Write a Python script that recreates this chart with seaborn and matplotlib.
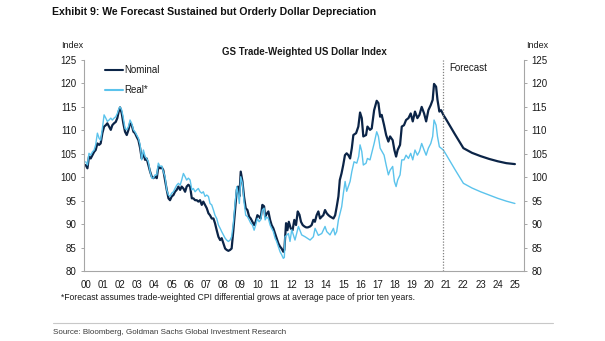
import numpy as np
import pandas as pd
import matplotlib
matplotlib.use("Agg")
import matplotlib.pyplot as plt
import seaborn as sns
from matplotlib import font_manager

# ---------------- data (years since 2000, index values) ----------------
nominal_t = [0.00, 0.10, 0.19, 0.29, 0.39, 0.49, 0.58, 0.68, 0.78, 0.87, 0.97, 1.07, 1.17, 1.26, 1.36,
             1.46, 1.55, 1.65, 1.75, 1.84, 1.94, 2.00, 2.10, 2.19, 2.29, 2.39, 2.49, 2.58, 2.68, 2.78,
             2.87, 2.97, 3.07, 3.17, 3.26, 3.36, 3.46, 3.55, 3.65, 3.75, 3.85, 3.94, 4.04, 4.14, 4.23,
             4.33, 4.43, 4.52, 4.62, 4.72, 4.82, 4.91, 5.01, 5.11, 5.20, 5.30, 5.40, 5.50, 5.59, 5.69,
             5.79, 5.88, 5.98, 6.08, 6.18, 6.27, 6.37, 6.47, 6.56, 6.66, 6.76, 6.85, 6.95, 7.05, 7.15,
             7.24, 7.34, 7.44, 7.53, 7.63, 7.73, 7.83, 7.92, 8.02, 8.12, 8.21, 8.31, 8.41, 8.50, 8.60,
             8.70, 8.80, 8.87, 8.95, 9.03, 9.13, 9.22, 9.32, 9.42, 9.52, 9.61, 9.71, 9.81, 9.90, 10.00,
             10.10, 10.19, 10.29, 10.39, 10.45, 10.54, 10.64, 10.74, 10.83, 10.93, 11.03, 11.12, 11.22,
             11.32, 11.41, 11.51, 11.57, 11.67, 11.75, 11.83, 11.94, 12.05, 12.15, 12.25, 12.35, 12.45,
             12.54, 12.64, 12.74, 12.84, 12.94, 13.07, 13.16, 13.26, 13.35, 13.45, 13.55, 13.65, 13.75,
             13.84, 13.94, 14.04, 14.14, 14.24, 14.43, 14.53, 14.62, 14.72, 14.80, 14.90, 15.00, 15.10,
             15.20, 15.30, 15.40, 15.50, 15.59, 15.75, 15.88, 15.98, 16.08, 16.17, 16.33, 16.41, 16.56,
             16.66, 16.80, 16.95, 17.05, 17.15, 17.24, 17.38, 17.50, 17.63, 17.73, 17.88, 17.98, 18.08,
             18.17, 18.31, 18.41, 18.54, 18.66, 18.80, 18.93, 19.05, 19.18, 19.32, 19.44, 19.57, 19.71,
             19.83, 19.96, 20.10, 20.21, 20.29, 20.41, 20.49, 20.60, 20.70, 20.83,
             21.00, 21.50, 22.00, 22.50, 23.00, 23.50, 24.00, 24.50, 25.00]
nominal_v = [102.6, 101.9, 104.4, 104.0, 104.7, 105.4, 105.8, 107.2, 106.9, 107.2, 109.4, 110.8, 111.1, 111.5, 110.8,
             110.1, 111.1, 111.5, 111.8, 112.6, 114.3, 114.9, 113.6, 111.5, 109.7, 109.0, 110.1, 111.5, 111.1, 109.7,
             109.4, 108.6, 107.9, 106.2, 104.0, 105.1, 103.7, 104.0, 102.6, 101.2, 100.1, 99.8, 100.1, 99.8, 102.3,
             101.9, 102.1, 101.5, 99.4, 97.3, 95.5, 95.1, 95.9, 96.2, 96.9, 97.3, 98.0, 97.3, 98.0, 97.6,
             96.9, 98.0, 98.4, 98.0, 95.5, 95.5, 95.1, 95.1, 94.8, 95.1, 94.1, 94.8, 94.1, 93.4, 92.3,
             91.9, 91.2, 91.2, 90.2, 88.7, 87.3, 86.6, 87.0, 85.9, 84.8, 84.5, 84.3, 84.5, 84.8, 88.7,
             93.0, 97.3, 98.0, 95.9, 101.2, 99.1, 95.9, 93.4, 93.0, 91.6, 91.2, 90.5, 89.8, 90.5, 91.9,
             91.6, 91.2, 94.1, 93.8, 91.6, 92.2, 92.7, 90.9, 89.8, 89.1, 88.0, 87.0, 85.9,
             85.2, 84.8, 84.1, 84.5, 90.2, 88.7, 90.5, 89.1, 88.7, 90.9, 89.8, 92.7, 92.0,
             90.5, 89.8, 89.5, 89.3, 89.3, 89.5, 89.8, 90.9, 90.5, 91.9, 92.7, 91.2, 91.6,
             91.9, 93.0, 92.3, 91.9, 91.6, 91.2, 91.9, 93.7, 95.9, 99.4, 100.8, 102.6, 104.7,
             105.1, 104.7, 104.0, 106.2, 109.0, 109.4, 110.8, 113.8, 112.6, 108.7, 109.0, 110.8, 110.1,
             110.4, 114.3, 116.3, 115.8, 112.9, 113.3, 111.1, 109.0, 107.6, 108.7, 107.9, 105.8, 104.4,
             105.8, 106.9, 110.8, 111.1, 112.2, 112.6, 113.6, 111.9, 114.0, 112.6, 113.3, 115.0, 113.6,
             111.9, 114.3, 115.4, 116.5, 119.9, 119.3, 116.5, 114.0, 114.3, 113.3,
             112.3, 109.2, 106.2, 105.2, 104.5, 103.9, 103.4, 103.0, 102.8]

real_t = [0.00, 0.10, 0.19, 0.29, 0.39, 0.49, 0.58, 0.68, 0.78, 0.87, 0.97, 1.07, 1.17, 1.26, 1.36,
          1.46, 1.55, 1.65, 1.75, 1.84, 1.94, 2.00, 2.10, 2.19, 2.29, 2.39, 2.49, 2.58, 2.68, 2.78,
          2.87, 2.97, 3.07, 3.17, 3.26, 3.36, 3.46, 3.55, 3.65, 3.75, 3.85, 3.94, 4.04, 4.14, 4.23,
          4.33, 4.43, 4.52, 4.62, 4.72, 4.82, 4.91, 5.01, 5.11, 5.20, 5.30, 5.40, 5.50, 5.59, 5.69,
          5.79, 5.88, 5.98, 6.08, 6.18, 6.27, 6.37, 6.47, 6.56, 6.66, 6.76, 6.85, 6.95, 7.05, 7.15,
          7.24, 7.34, 7.44, 7.53, 7.63, 7.73, 7.83, 7.92, 8.02, 8.12, 8.21, 8.31, 8.41, 8.50, 8.60,
          8.70, 8.80, 8.87, 8.95, 9.03, 9.13, 9.22, 9.32, 9.42, 9.52, 9.61, 9.71, 9.81, 9.90, 10.00,
          10.10, 10.19, 10.29, 10.39, 10.45, 10.54, 10.64, 10.74, 10.83, 10.93, 11.03, 11.12, 11.22,
          11.32, 11.41, 11.51, 11.57, 11.61, 11.81, 11.90, 12.00, 12.19, 12.39, 12.58, 12.78, 13.07,
          13.26, 13.36, 13.55, 13.75, 13.94, 14.04, 14.23, 14.43, 14.52, 14.62, 14.72, 14.91, 15.01,
          15.11, 15.20, 15.40, 15.50, 15.63, 15.79, 15.90, 15.98, 16.08, 16.17, 16.33, 16.41, 16.56,
          16.80, 16.95, 17.05, 17.15, 17.38, 17.50, 17.63, 17.73, 17.88, 17.98, 18.08, 18.17, 18.31,
          18.41, 18.54, 18.66, 18.80, 18.93, 19.05, 19.18, 19.32, 19.44, 19.57, 19.71, 19.83, 19.96,
          20.10, 20.21, 20.29, 20.41, 20.49, 20.60, 20.70, 20.83,
          21.00, 21.50, 22.00, 22.50, 23.00, 23.50, 24.00, 24.50, 25.00]
real_v = [103.3, 102.6, 105.1, 104.7, 105.4, 105.8, 106.9, 109.4, 108.3, 107.9, 110.4, 113.3, 112.6, 111.9, 112.2,
          112.6, 112.2, 112.6, 112.9, 113.6, 114.7, 115.0, 114.3, 112.6, 110.4, 110.1, 110.8, 112.2, 111.5, 110.1,
          109.7, 109.0, 108.3, 106.9, 103.7, 105.8, 104.4, 104.0, 103.3, 101.2, 99.8, 99.8, 100.5, 100.5, 103.0,
          102.3, 102.4, 101.2, 100.1, 97.3, 96.2, 95.9, 96.6, 96.9, 97.6, 98.3, 98.7, 98.3, 99.4, 100.8,
          100.1, 99.4, 99.8, 99.4, 97.3, 97.6, 96.9, 97.3, 97.6, 96.9, 96.6, 96.9, 95.9, 96.2, 95.9,
          94.4, 94.1, 93.0, 91.9, 91.2, 89.8, 89.1, 88.4, 87.7, 87.0, 86.6, 86.3, 86.6, 87.3, 90.2,
          94.4, 98.0, 96.6, 94.4, 100.1, 98.7, 94.8, 91.9, 91.6, 90.9, 90.2, 89.8, 88.7, 89.8, 91.2,
          90.5, 90.9, 93.0, 93.4, 90.9, 91.5, 91.2, 89.8, 89.1, 88.4, 87.0, 86.3, 85.2,
          84.1, 83.5, 82.7, 82.9, 87.3, 88.0, 86.3, 88.8, 86.6, 89.5, 87.7, 87.3, 86.6,
          87.3, 89.1, 87.6, 88.0, 89.5, 88.4, 87.7, 89.1, 87.7, 88.4, 90.9, 93.7, 96.6,
          99.1, 97.0, 99.1, 101.2, 103.3, 103.0, 104.4, 106.9, 105.5, 102.6, 103.0, 104.0, 103.7,
          107.2, 109.7, 108.7, 106.2, 104.7, 102.6, 100.5, 101.5, 102.3, 99.1, 98.0, 99.4, 100.5,
          103.7, 103.7, 104.7, 104.0, 105.1, 103.7, 105.8, 104.7, 105.5, 107.2, 105.8, 104.7, 106.2,
          107.2, 108.7, 112.2, 111.1, 108.7, 106.5, 106.2, 105.8,
          104.8, 101.7, 98.7, 97.7, 96.9, 96.2, 95.5, 94.9, 94.4]

series_names = ["Nominal", "Real*"]
forecast_start = 20.83
year_ticks = list(range(0, 26))
year_labels = [f"{y:02d}" for y in year_ticks]
y_ticks = [80, 85, 90, 95, 100, 105, 110, 115, 120, 125]

# ---------------- styling ----------------
sns.set_theme(style="white")
avail = {f.name for f in font_manager.fontManager.ttflist}
base = "Liberation Sans" if "Liberation Sans" in avail else "DejaVu Sans"
narrow = "Liberation Sans Narrow" if "Liberation Sans Narrow" in avail else base
plt.rcParams["font.family"] = [base, "DejaVu Sans"]

NAVY = "#0b2447"
LIGHT = "#5bc3ec"
AXC = "#a6a6a6"
TXT = "#1a1a1a"

df = pd.concat([
    pd.DataFrame({"year": nominal_t, "value": nominal_v, "series": series_names[0]}),
    pd.DataFrame({"year": real_t, "value": real_v, "series": series_names[1]}),
])

fig = plt.figure(figsize=(6.05, 3.41), dpi=100)
ax = fig.add_axes([84 / 605, 1 - 271 / 341, (524 - 84) / 605, (271 - 60) / 341])

sns.lineplot(data=df, x="year", y="value", hue="series", hue_order=series_names,
             palette={"Nominal": NAVY, "Real*": LIGHT}, ax=ax, sort=False,
             estimator=None, legend=True)
for line, lw in zip(ax.get_lines(), [1.6, 1.0]):
    line.set_linewidth(lw)
    line.set_solid_joinstyle("round")

ax.set_xlim(-0.1, 25.53)
ax.set_ylim(80, 125)
ax.set_xticks(year_ticks)
ax.set_xticklabels(year_labels)
ax.set_yticks(y_ticks)
ax.set_xlabel("")
ax.set_ylabel("")
ax.tick_params(axis="both", which="both", labelsize=7, colors=AXC, labelcolor=TXT,
               length=2.5, width=0.7, direction="out", pad=3)
ax.tick_params(axis="x", pad=4)
for s in ["left", "bottom"]:
    ax.spines[s].set_color(AXC)
    ax.spines[s].set_linewidth(0.8)
ax.spines["top"].set_visible(False)
ax.spines["right"].set_visible(False)

ax2 = ax.twinx()
ax2.set_ylim(80, 125)
ax2.set_yticks(y_ticks)
ax2.tick_params(axis="y", labelsize=7, colors=AXC, labelcolor=TXT, length=2.5, width=0.7,
                direction="out", pad=3)
ax2.spines["right"].set_color(AXC)
ax2.spines["right"].set_linewidth(0.8)
for s in ["top", "left", "bottom"]:
    ax2.spines[s].set_visible(False)

# forecast marker
ax.axvline(forecast_start, color="#808080", lw=0.9, ls=(0, (1, 1.3)))
ax.text(forecast_start + 0.35, 123.3, "Forecast", fontsize=7, color=TXT, ha="left", va="center")

# legend
handles, labels = ax.get_legend_handles_labels()
leg = ax.legend(handles, labels, loc="upper left", bbox_to_anchor=(105 / 605, 1 - 65 / 341),
                bbox_transform=fig.transFigure, frameon=False, fontsize=7, borderpad=0,
                borderaxespad=0, handlelength=1.9, handletextpad=0.1, labelspacing=1.05)
for t in leg.get_texts():
    t.set_color(TXT)

# texts
fig.text(52 / 605, 1 - 12 / 341, "Exhibit 9: We Forecast Sustained but Orderly Dollar Depreciation",
         family=[narrow, "DejaVu Sans"], fontweight="bold", fontsize=7.6, color="#111111",
         ha="left", va="center")
fig.text(304 / 605, 1 - 52 / 341, "GS Trade-Weighted US Dollar Index", fontweight="bold",
         fontsize=7, color=TXT, ha="center", va="center")
fig.text(72 / 605, 1 - 46 / 341, "Index", fontsize=6.5, color=TXT, ha="center", va="center")
fig.text(537 / 605, 1 - 46 / 341, "Index", fontsize=6.5, color=TXT, ha="center", va="center")
fig.text(61 / 605, 1 - 297 / 341,
         "*Forecast assumes trade-weighted CPI differential grows at average pace of prior ten years.",
         fontsize=6.2, color=TXT, ha="left", va="center")
fig.add_artist(plt.Line2D([53 / 605, 553 / 605], [1 - 323 / 341, 1 - 323 / 341],
                          transform=fig.transFigure, color="#c8c8c8", lw=0.8))
fig.text(53 / 605, 1 - 333 / 341, "Source: Bloomberg, Goldman Sachs Global Investment Research",
         family=[narrow, "DejaVu Sans"], fontsize=5.8, color="#3a3a3a", ha="left", va="center")

fig.savefig("out.png", dpi=100)
